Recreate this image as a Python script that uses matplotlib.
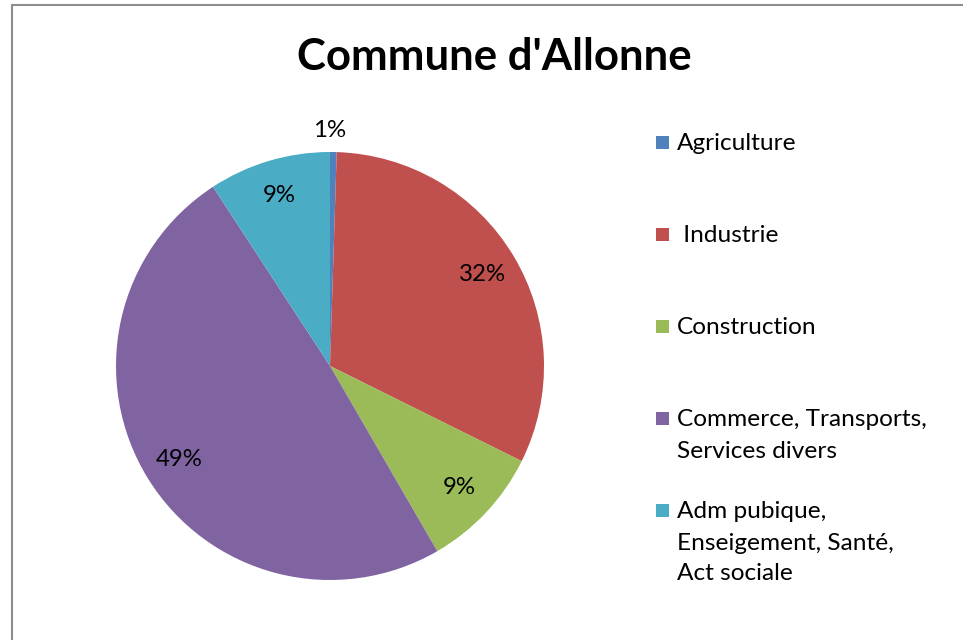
import matplotlib
matplotlib.use("Agg")
import matplotlib.pyplot as plt
from matplotlib.patches import Rectangle

# Data
categories = ["Agriculture", " Industrie", "Construction",
              "Commerce, Transports,\nServices divers",
              "Adm pubique,\nEnseigement, Santé,\nAct sociale"]
shares = [0.5, 31.8, 9.3, 49.1, 9.2]
colors = ["#4F81BD", "#C0504D", "#9BBB59", "#8064A2", "#4BACC6"]
title = "Commune d'Allonne"

FONT = "Lato"
W, H = 963, 640

fig = plt.figure(figsize=(W / 100, H / 100), dpi=100)

# chart frame (only left and top edges show in the crop)
fig.add_artist(Rectangle((12 / W, -0.1), 1.2, 1 - 5 / H + 0.1, transform=fig.transFigure,
                         fill=False, edgecolor="#8c8c8c", linewidth=1.5))

# pie axes: centre (330, 366) px, radius 214 px
cx, cy, r = 330, 366, 214
ax = fig.add_axes([(cx - r) / W, 1 - (cy + r) / H, 2 * r / W, 2 * r / H])
wedges, texts, autotexts = ax.pie(shares, colors=colors, startangle=90, counterclock=False,
                                  autopct=lambda p: f"{int(p + 0.5)}%", pctdistance=0.83,
                                  radius=1, wedgeprops=dict(linewidth=0),
                                  textprops=dict(fontsize=17.3, family=FONT, color="black"))
# small first slice gets its label outside, as Excel does
autotexts[0].set_position((0.0, 1.1))
ax.set_xlim(-1, 1)
ax.set_ylim(-1, 1)
ax.set_aspect("equal")
ax.axis("off")

fig.text(494 / W, 1 - 57 / H, title, ha="center", va="center",
         fontsize=31.5, fontweight="bold", family=FONT)

# legend laid out like Excel: equal pitch between entries
base0, pitch, line_h = 150.5, 92.0, 31.0
for i, (lab, col) in enumerate(zip(categories, colors)):
    yb = base0 + i * pitch
    fig.add_artist(Rectangle((656 / W, 1 - (yb - 2) / H), 13 / W, 13 / H,
                             transform=fig.transFigure, facecolor=col, edgecolor="none"))
    for k, line in enumerate(lab.split("\n")):
        fig.text(677 / W, 1 - (yb + k * line_h) / H, line, ha="left", va="baseline",
                 fontsize=17.6, family=FONT)

fig.savefig("out.png", dpi=100)
